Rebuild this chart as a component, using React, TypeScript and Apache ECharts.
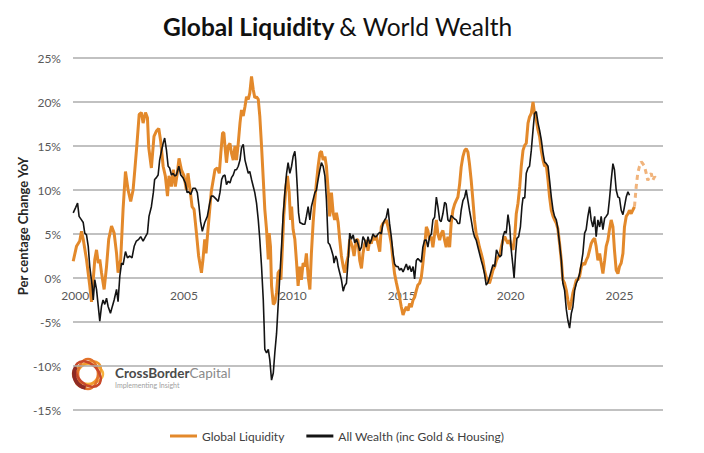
import React, { useEffect, useRef } from "react";
import * as echarts from "echarts";

// Global Liquidity (% YoY), decimal years
const liquidityDates = [
  1999.91, 2000.06, 2000.21, 2000.29, 2000.37, 2000.52, 2000.67, 2000.75, 2000.9, 2000.98,
  2001.06, 2001.13, 2001.21, 2001.33, 2001.44, 2001.54, 2001.67, 2001.79, 2001.9, 2001.97,
  2002.09, 2002.2, 2002.31, 2002.43, 2002.55, 2002.66, 2002.74, 2002.84, 2002.94, 2003.04,
  2003.12, 2003.23, 2003.32, 2003.38, 2003.5, 2003.62, 2003.73, 2003.84, 2003.93, 2004.04,
  2004.14, 2004.24, 2004.31, 2004.42, 2004.51, 2004.6, 2004.69, 2004.77, 2004.88, 2005.0,
  2005.11, 2005.18, 2005.26, 2005.37, 2005.46, 2005.57, 2005.67, 2005.8, 2005.87, 2005.95,
  2006.01, 2006.1, 2006.25, 2006.42, 2006.53, 2006.62, 2006.69, 2006.77, 2006.83, 2006.88,
  2006.95, 2007.03, 2007.11, 2007.18, 2007.26, 2007.34, 2007.41, 2007.49, 2007.57, 2007.64,
  2007.72, 2007.8, 2007.87, 2007.95, 2008.02, 2008.1, 2008.18, 2008.25, 2008.33, 2008.41,
  2008.48, 2008.56, 2008.64, 2008.71, 2008.79, 2008.87, 2008.91, 2008.97, 2009.02, 2009.1,
  2009.17, 2009.25, 2009.32, 2009.4, 2009.45, 2009.52, 2009.58, 2009.68, 2009.75, 2009.83,
  2009.89, 2009.94, 2010.01, 2010.09, 2010.17, 2010.24, 2010.32, 2010.39, 2010.47, 2010.55,
  2010.62, 2010.7, 2010.78, 2010.85, 2010.93, 2011.01, 2011.08, 2011.16, 2011.24, 2011.31,
  2011.39, 2011.47, 2011.54, 2011.62, 2011.69, 2011.77, 2011.85, 2011.92, 2012.0, 2012.08,
  2012.15, 2012.23, 2012.31, 2012.38, 2012.46, 2012.54, 2012.61, 2012.73, 2012.81, 2012.92,
  2012.99, 2013.07, 2013.15, 2013.22, 2013.3, 2013.37, 2013.45, 2013.53, 2013.6, 2013.68,
  2013.76, 2013.83, 2013.91, 2013.99, 2014.06, 2014.14, 2014.22, 2014.29, 2014.37, 2014.44,
  2014.52, 2014.6, 2014.67, 2014.75, 2014.83, 2014.9, 2014.98, 2015.06, 2015.13, 2015.21,
  2015.29, 2015.36, 2015.44, 2015.52, 2015.59, 2015.67, 2015.74, 2015.82, 2015.9, 2015.97,
  2016.05, 2016.13, 2016.2, 2016.28, 2016.36, 2016.43, 2016.51, 2016.59, 2016.66, 2016.74,
  2016.81, 2016.89, 2016.97, 2017.04, 2017.12, 2017.2, 2017.27, 2017.35, 2017.43, 2017.5,
  2017.58, 2017.66, 2017.73, 2017.81, 2017.89, 2017.96, 2018.04, 2018.11, 2018.19, 2018.27,
  2018.34, 2018.42, 2018.5, 2018.57, 2018.65, 2018.73, 2018.8, 2018.88, 2018.96, 2019.03,
  2019.12, 2019.19, 2019.27, 2019.35, 2019.42, 2019.5, 2019.58, 2019.65, 2019.73, 2019.8,
  2019.88, 2019.96, 2020.03, 2020.11, 2020.19, 2020.26, 2020.34, 2020.42, 2020.49, 2020.57,
  2020.65, 2020.72, 2020.8, 2020.87, 2020.95, 2021.03, 2021.1, 2021.18, 2021.26, 2021.33,
  2021.41, 2021.49, 2021.56, 2021.64, 2021.72, 2021.79, 2021.87, 2021.95, 2022.02, 2022.1,
  2022.17, 2022.25, 2022.33, 2022.4, 2022.48, 2022.56, 2022.63, 2022.71, 2022.79, 2022.86,
  2022.94, 2023.02, 2023.09, 2023.17, 2023.25, 2023.32, 2023.4, 2023.47, 2023.55, 2023.63,
  2023.7, 2023.78, 2023.86, 2023.93, 2024.01, 2024.09, 2024.16, 2024.24, 2024.32, 2024.39,
  2024.47, 2024.54, 2024.62, 2024.7, 2024.77, 2024.85, 2024.93, 2025.0, 2025.08, 2025.16,
  2025.23, 2025.31, 2025.39, 2025.46, 2025.54, 2025.61, 2025.69,
];
const liquidityValues = [
  1.9, 3.6, 4.2, 5.3, 4.4, 2.1, -0.9, -2.7, 2.1, 3.2,
  1.7, 2.1, 0.6, -1.3, 1.3, 4.4, 5.9, 5.1, 2.8, 0.6,
  2.1, 7.8, 12.1, 10.0, 8.7, 10.0, 12.3, 15.3, 18.6, 18.8,
  17.6, 18.8, 18.2, 14.8, 12.5, 16.1, 16.7, 17.0, 15.5, 12.7,
  11.6, 9.3, 11.6, 10.4, 12.3, 10.4, 11.9, 13.6, 12.3, 11.6,
  10.0, 11.9, 10.4, 8.1, 7.8, 5.1, 2.5, 0.6, 2.1, 4.4,
  2.8, 5.5, 9.8, 12.3, 12.5, 11.9, 14.2, 16.5, 16.5, 15.0,
  13.1, 15.0, 15.3, 14.2, 13.4, 15.0, 13.4, 15.3, 17.6, 19.1,
  18.4, 19.5, 20.6, 20.3, 21.0, 22.9, 21.4, 20.5, 20.6, 20.3,
  18.4, 15.0, 11.2, 7.8, 5.5, 2.1, 5.1, 3.6, -0.9, -3.0,
  -2.8, -1.7, 0.6, 0.9, -0.2, 3.6, 7.0, 10.4, 11.6, 9.7,
  6.6, 8.1, 5.5, 4.4, 1.7, -0.9, 1.3, -0.2, 1.7, 1.3,
  2.8, 0.2, -1.3, 2.8, 6.3, 8.9, 10.8, 12.7, 14.2, 14.4,
  13.4, 13.8, 12.7, 10.0, 7.0, 9.7, 7.4, 6.6, 7.4, 6.3,
  4.4, 2.5, 1.3, 0.6, 1.7, 2.5, 4.4, 3.6, 2.5, 4.4,
  4.3, 2.0, 1.1, 2.8, 3.9, 4.3, 3.1, 4.3, 3.9, 4.7,
  4.3, 4.8, 3.9, 3.0, 5.8, 6.2, 6.4, 6.6, 5.8, 5.0,
  3.9, 2.0, 0.5, -0.5, -1.4, -2.2, -3.3, -4.2, -3.7, -3.3,
  -3.7, -2.9, -3.3, -2.5, -2.2, -1.4, -0.8, -0.6, 0.1, 1.6,
  3.5, 5.8, 5.4, 4.3, 4.7, 3.5, 5.0, 6.6, 5.0, 4.3,
  5.0, 5.4, 4.3, 3.5, 4.7, 3.5, 6.2, 7.7, 8.4, 8.8,
  9.2, 10.7, 12.6, 13.8, 14.5, 14.7, 14.3, 13.0, 11.1, 8.8,
  6.6, 5.0, 4.3, 3.5, 2.8, 2.0, 0.9, 0.1, -0.3, -0.6,
  0.2, 0.9, 1.3, 2.0, 2.4, 2.6, 3.6, 4.3, 4.7, 4.3,
  3.9, 4.3, 3.6, 3.2, 4.7, 7.3, 8.5, 10.4, 12.7, 14.5,
  15.1, 15.3, 17.6, 18.3, 18.7, 20.0, 18.7, 18.0, 16.8, 16.1,
  14.5, 13.4, 12.7, 12.8, 11.1, 9.2, 7.7, 7.0, 6.6, 6.2,
  5.6, 3.9, 2.0, -0.2, -0.6, -1.4, -2.5, -3.6, -2.7, -1.7,
  -1.0, -0.2, -0.2, 0.2, 1.3, 1.7, 1.5, 2.0, 2.4, 3.2,
  3.9, 4.3, 4.5, 3.6, 2.0, 2.8, 1.7, 0.5, 2.0, 3.6,
  4.3, 5.5, 6.6, 5.8, 3.2, 0.9, 0.5, 1.3, 1.7, 2.8,
  5.8, 7.0, 7.3, 7.7, 7.3, 7.7, 8.1,
];

// Global Liquidity projection (dashed)
const forecastDates = [
  2025.69, 2025.77, 2025.84, 2025.92, 2026.0, 2026.07, 2026.15, 2026.23, 2026.3, 2026.38,
  2026.46, 2026.53, 2026.61, 2026.69,
];
const forecastValues = [8.1, 10.4, 11.9, 12.7, 13.2, 13.0, 12.7, 11.9, 11.1, 11.5, 11.9, 11.1, 11.5, 11.3];

// All Wealth (inc Gold & Housing) (% YoY)
const wealthDates = [
  1999.91, 2000.02, 2000.11, 2000.18, 2000.29, 2000.37, 2000.44, 2000.52, 2000.6, 2000.67,
  2000.78, 2000.83, 2000.9, 2000.98, 2001.06, 2001.13, 2001.21, 2001.28, 2001.36, 2001.44,
  2001.51, 2001.62, 2001.71, 2001.79, 2001.9, 2001.97, 2002.05, 2002.13, 2002.2, 2002.31,
  2002.4, 2002.51, 2002.61, 2002.71, 2002.81, 2002.92, 2003.01, 2003.12, 2003.23, 2003.32,
  2003.39, 2003.5, 2003.59, 2003.65, 2003.73, 2003.81, 2003.88, 2003.96, 2004.04, 2004.11,
  2004.19, 2004.27, 2004.34, 2004.42, 2004.5, 2004.57, 2004.65, 2004.76, 2004.85, 2004.95,
  2005.06, 2005.14, 2005.21, 2005.31, 2005.41, 2005.52, 2005.61, 2005.69, 2005.76, 2005.84,
  2005.95, 2006.07, 2006.18, 2006.25, 2006.34, 2006.5, 2006.57, 2006.65, 2006.73, 2006.8,
  2006.88, 2006.95, 2007.03, 2007.11, 2007.18, 2007.26, 2007.34, 2007.41, 2007.49, 2007.57,
  2007.64, 2007.72, 2007.8, 2007.87, 2007.95, 2008.02, 2008.1, 2008.18, 2008.25, 2008.33,
  2008.41, 2008.48, 2008.56, 2008.64, 2008.68, 2008.71, 2008.79, 2008.87, 2008.94, 2009.02,
  2009.1, 2009.17, 2009.25, 2009.32, 2009.4, 2009.48, 2009.55, 2009.63, 2009.71, 2009.78,
  2009.86, 2009.94, 2010.01, 2010.09, 2010.13, 2010.2, 2010.26, 2010.32, 2010.47, 2010.55,
  2010.62, 2010.7, 2010.78, 2010.85, 2010.93, 2011.01, 2011.08, 2011.16, 2011.24, 2011.31,
  2011.39, 2011.47, 2011.54, 2011.62, 2011.69, 2011.77, 2011.85, 2011.89, 2011.97, 2012.03,
  2012.08, 2012.15, 2012.23, 2012.31, 2012.38, 2012.46, 2012.54, 2012.61, 2012.69, 2012.77,
  2012.84, 2012.92, 2012.99, 2013.07, 2013.15, 2013.22, 2013.3, 2013.37, 2013.45, 2013.53,
  2013.6, 2013.68, 2013.76, 2013.83, 2013.91, 2013.99, 2014.06, 2014.14, 2014.22, 2014.29,
  2014.37, 2014.44, 2014.52, 2014.6, 2014.67, 2014.75, 2014.83, 2014.9, 2014.98, 2015.06,
  2015.13, 2015.21, 2015.29, 2015.36, 2015.44, 2015.52, 2015.59, 2015.67, 2015.74, 2015.82,
  2015.9, 2015.97, 2016.05, 2016.13, 2016.2, 2016.28, 2016.36, 2016.43, 2016.51, 2016.59,
  2016.66, 2016.74, 2016.81, 2016.89, 2016.97, 2017.04, 2017.12, 2017.2, 2017.27, 2017.35,
  2017.43, 2017.5, 2017.58, 2017.66, 2017.73, 2017.81, 2017.89, 2017.96, 2018.04, 2018.11,
  2018.19, 2018.27, 2018.34, 2018.42, 2018.5, 2018.57, 2018.65, 2018.73, 2018.8, 2018.88,
  2018.96, 2019.03, 2019.12, 2019.19, 2019.27, 2019.35, 2019.42, 2019.5, 2019.58, 2019.65,
  2019.73, 2019.8, 2019.88, 2019.96, 2020.03, 2020.11, 2020.16, 2020.23, 2020.29, 2020.37,
  2020.45, 2020.52, 2020.57, 2020.65, 2020.72, 2020.8, 2020.87, 2020.95, 2021.03, 2021.1,
  2021.18, 2021.26, 2021.33, 2021.41, 2021.49, 2021.56, 2021.64, 2021.72, 2021.79, 2021.87,
  2021.95, 2022.02, 2022.1, 2022.17, 2022.25, 2022.33, 2022.4, 2022.48, 2022.56, 2022.63,
  2022.71, 2022.79, 2022.86, 2022.94, 2023.02, 2023.09, 2023.17, 2023.25, 2023.32, 2023.4,
  2023.47, 2023.55, 2023.63, 2023.7, 2023.78, 2023.86, 2023.93, 2024.01, 2024.09, 2024.16,
  2024.24, 2024.32, 2024.39, 2024.47, 2024.54, 2024.62, 2024.7, 2024.77, 2024.85, 2024.93,
  2025.0, 2025.08, 2025.16, 2025.23, 2025.31, 2025.39, 2025.46,
];
const wealthValues = [
  7.4, 8.0, 8.5, 7.0, 6.6, 6.3, 5.1, 4.9, 3.6, 1.3,
  -0.9, -2.5, -0.2, -1.3, -3.2, -4.9, -3.2, -2.5, -3.0, -2.3,
  -3.2, -4.0, -3.2, -2.5, -1.3, -2.7, 0.2, 1.7, 1.5, 3.0,
  2.3, 2.5, 2.3, 3.6, 4.2, 4.4, 4.7, 4.2, 4.7, 5.1,
  7.0, 8.1, 9.7, 11.2, 11.4, 11.7, 13.4, 14.4, 15.3, 15.9,
  14.6, 12.7, 12.5, 11.7, 11.9, 11.6, 11.7, 12.7, 11.7, 11.4,
  10.8, 9.7, 9.8, 9.5, 10.2, 10.2, 9.7, 8.1, 6.4, 5.3,
  6.3, 7.0, 8.5, 9.3, 9.3, 8.9, 8.7, 9.7, 11.2, 11.6,
  11.7, 10.6, 11.0, 10.8, 11.4, 11.7, 12.3, 12.3, 12.7, 13.4,
  14.8, 15.2, 13.4, 12.7, 11.9, 12.1, 11.2, 10.4, 9.7, 8.5,
  6.6, 4.4, 1.3, -2.5, -5.5, -8.1, -8.5, -8.1, -9.3, -11.6,
  -10.8, -8.5, -6.3, -3.2, 0.2, 3.6, 7.0, 9.7, 11.9, 13.1,
  11.9, 12.7, 13.8, 14.4, 13.4, 10.4, 7.4, 6.3, 6.1, 6.1,
  7.0, 8.1, 6.6, 8.1, 8.9, 9.7, 10.0, 11.2, 12.3, 13.1,
  12.7, 11.6, 8.9, 4.0, 3.8, 3.2, 2.5, 1.7, 2.5, 2.1,
  1.3, 0.6, -0.2, -1.5, -0.9, -0.6, 2.1, 5.1, 4.4, 4.9,
  4.0, 4.4, 3.9, 3.1, 3.5, 4.7, 4.3, 3.5, 4.7, 3.9,
  4.3, 5.0, 4.7, 4.7, 5.0, 5.2, 5.0, 6.2, 6.6, 6.9,
  7.9, 6.2, 4.7, 2.8, 1.6, 1.3, 1.3, 0.9, 1.1, 0.7,
  1.1, 1.6, 0.9, 1.4, 0.7, 1.3, -0.1, 2.0, 2.2, 2.0,
  1.8, 3.5, 4.3, 4.3, 3.5, 4.7, 5.0, 6.6, 6.9, 9.2,
  8.1, 6.6, 6.4, 7.3, 8.6, 8.4, 6.6, 6.4, 7.1, 6.9,
  6.7, 6.6, 6.2, 6.2, 7.7, 8.8, 9.2, 10.0, 8.8, 7.7,
  6.6, 5.4, 4.7, 4.3, 3.5, 2.8, 2.0, 1.3, 0.5, -0.8,
  -0.5, 0.1, 0.9, 1.5, 1.3, 3.2, 2.8, 2.4, 2.6, 4.7,
  5.3, 5.1, 7.2, 5.8, 3.2, 1.3, 0.0, 2.8, 4.5, 4.7,
  5.8, 8.1, 9.1, 9.1, 11.9, 12.5, 12.7, 14.5, 16.8, 18.7,
  18.9, 17.6, 16.8, 15.7, 14.2, 13.2, 13.0, 12.7, 11.1, 9.2,
  7.7, 7.0, 6.6, 5.6, 3.9, 2.0, -0.6, -1.4, -3.6, -4.8,
  -5.7, -4.0, -3.3, -1.4, -0.6, -0.2, 0.5, 1.7, 2.8, 5.1,
  5.5, 7.0, 8.1, 6.6, 5.8, 7.0, 4.7, 6.6, 5.8, 7.0,
  5.5, 6.8, 7.0, 7.3, 8.9, 11.1, 13.0, 12.3, 10.0, 9.2,
  9.1, 7.7, 7.2, 8.1, 9.2, 9.8, 9.4,
];

const xTickYears = [2000, 2005, 2010, 2015, 2020, 2025];

const zip = (a: number[], b: number[]) => a.map((d, i) => [d, b[i]]);

const FONT = "Lato";
const ORANGE = "#E3892B";
const GRID = "#ADADAD";

export default function App() {
  const ref = useRef<HTMLDivElement>(null);

  useEffect(() => {
    const chart = echarts.init(ref.current!, null, { renderer: "svg" });

    const swirl: any[] = [
      { rot: 0, color: "#F6B23C" },
      { rot: 45, color: "#F09A2E" },
      { rot: 90, color: "#E2722A" },
      { rot: 135, color: "#C8482A" },
    ].map((s) => ({
      type: "ellipse",
      x: 88,
      y: 374,
      rotation: (s.rot * Math.PI) / 180,
      shape: { cx: 0, cy: 0, rx: 15, ry: 10 },
      style: { fill: "none", stroke: s.color, lineWidth: 2.5 },
    }));

    chart.setOption({
      animation: false,
      backgroundColor: "#ffffff",
      title: {
        text: "{b|Global Liquidity} {n|& World Wealth}",
        left: 158,
        top: 9,
        textStyle: {
          rich: {
            b: { fontFamily: FONT, fontWeight: "bold", fontSize: 24.5, color: "#111111" },
            n: { fontFamily: FONT, fontWeight: "normal", fontSize: 24.5, color: "#111111" },
          },
        },
      },
      grid: { left: 73, right: 41, top: 58, bottom: 43, containLabel: false },
      legend: {
        left: 165,
        top: 425,
        icon: "rect",
        itemWidth: 27,
        itemHeight: 3,
        itemGap: 22,
        data: ["Global Liquidity", "All Wealth (inc Gold & Housing)"],
        textStyle: { fontFamily: FONT, fontSize: 12, color: "#404040" },
      },
      xAxis: {
        type: "value",
        min: 1999.9,
        max: 2027,
        position: "bottom",
        offset: -132,
        axisLine: { show: false, onZero: false },
        axisTick: { show: false },
        splitLine: { show: false },
        axisLabel: {
          customValues: xTickYears,
          formatter: (v: number) => String(Math.round(v)),
          color: "#595959",
          fontFamily: FONT,
          fontSize: 12,
          margin: 11,
        },
      },
      yAxis: {
        type: "value",
        min: -15,
        max: 25,
        interval: 5,
        axisLine: { show: false },
        axisTick: { show: false },
        splitLine: { lineStyle: { color: GRID, width: 1.5 } },
        axisLabel: {
          formatter: "{value}%",
          color: "#595959",
          fontFamily: FONT,
          fontSize: 12,
          margin: 12,
        },
      },
      series: [
        {
          name: "Global Liquidity",
          type: "line",
          data: zip(liquidityDates, liquidityValues),
          symbol: "none",
          lineStyle: { color: ORANGE, width: 3 },
          itemStyle: { color: ORANGE },
          z: 2,
        },
        {
          name: "Global Liquidity (projection)",
          type: "line",
          data: zip(forecastDates, forecastValues),
          symbol: "none",
          lineStyle: { color: "#F1B47C", width: 3, type: [5, 4] },
          itemStyle: { color: "#F1B47C" },
          z: 2,
        },
        {
          name: "All Wealth (inc Gold & Housing)",
          type: "line",
          data: zip(wealthDates, wealthValues),
          symbol: "none",
          lineStyle: { color: "#141414", width: 1.6 },
          itemStyle: { color: "#141414" },
          z: 3,
        },
      ],
      graphic: [
        {
          type: "text",
          x: 23,
          y: 226,
          rotation: Math.PI / 2,
          style: {
            text: "Per centage Change YoY",
            font: `bold 13px ${FONT}`,
            fill: "#262626",
            align: "center",
            verticalAlign: "middle",
            textAlign: "center",
            textVerticalAlign: "middle",
          },
        },
        {
          type: "group",
          z: 100,
          children: [
            {
              type: "rect",
              shape: { x: 68, y: 347, width: 170, height: 47 },
              style: { fill: "#ffffff" },
            },
            ...swirl,
            {
              type: "arc",
              shape: { cx: 88, cy: 374, r: 14, startAngle: (100 * Math.PI) / 180, endAngle: (210 * Math.PI) / 180 },
              style: { stroke: "#8E2B25", lineWidth: 4, fill: "none" },
            },
            {
              type: "text",
              x: 115,
              y: 373,
              style: {
                text: "{a|CrossBorder}{c|Capital}",
                verticalAlign: "middle",
                textVerticalAlign: "middle",
                rich: {
                  a: { fontFamily: FONT, fontWeight: "bold", fontSize: 13.5, fill: "#4A4A4A", color: "#4A4A4A" },
                  c: { fontFamily: FONT, fontWeight: "normal", fontSize: 13.5, fill: "#8A8A8A", color: "#8A8A8A" },
                },
              },
            },
            {
              type: "text",
              x: 115,
              y: 385,
              style: {
                text: "Implementing Insight",
                font: `7px ${FONT}`,
                fill: "#A0A0A0",
                verticalAlign: "middle",
                textVerticalAlign: "middle",
              },
            },
          ],
        },
      ],
    });

    return () => chart.dispose();
  }, []);

  return (
    <div
      ref={ref}
      style={{ position: "absolute", left: 0, top: 0, width: 704, height: 453, background: "#fff" }}
    />
  );
}
